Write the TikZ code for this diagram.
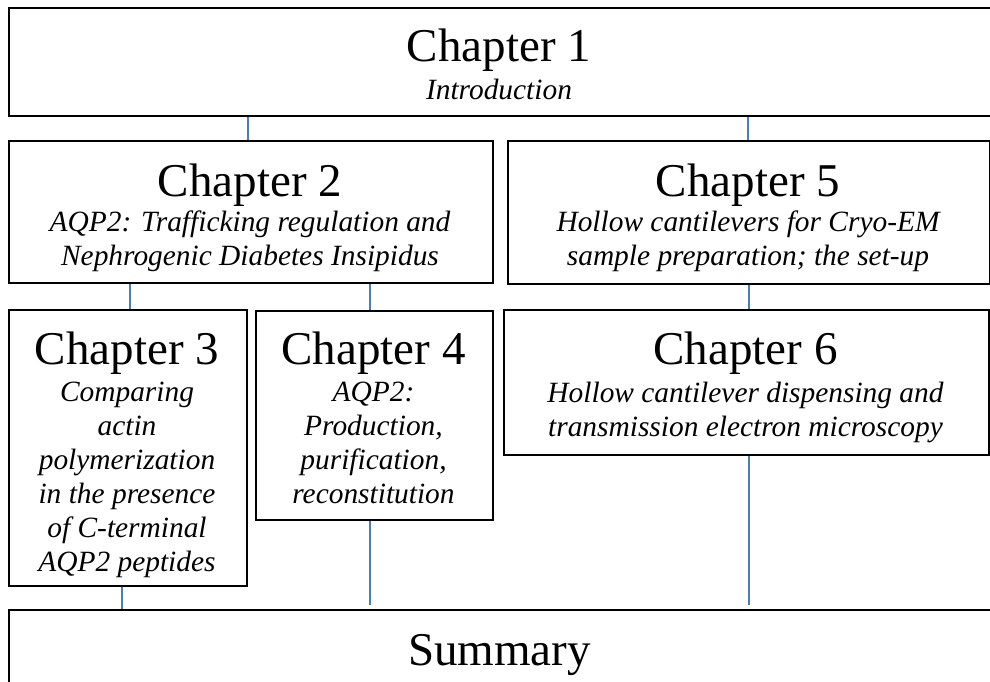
\documentclass[tikz,border=0pt]{standalone}
\usepackage{fontspec}
\setmainfont{Liberation Serif}
\definecolor{connblue}{RGB}{74,126,187}
\begin{document}
\begin{tikzpicture}[x=1pt,y=-1pt,
  box/.style={draw=black, line width=1.5pt, inner sep=0pt, anchor=north west},
  conn/.style={draw=connblue, line width=1.3pt},
  chap/.style={font=\fontsize{47}{50}\selectfont, anchor=base, inner sep=0pt},
  sub/.style={font=\itshape\fontsize{29.4}{34}\selectfont, anchor=base, inner sep=0pt}]
\useasboundingbox (0,0) rectangle (990,681);
\clip (0,0) rectangle (990,681);
% boxes
\node[box, minimum width=1000pt, minimum height=108pt] (ch1) at (8,7) {};
\node[box, minimum width=484pt, minimum height=142pt] (ch2) at (8,140) {};
\node[box, minimum width=482pt, minimum height=143pt] (ch5) at (507,140) {};
\node[box, minimum width=238pt, minimum height=276pt] (ch3) at (8,309) {};
\node[box, minimum width=237pt, minimum height=209pt] (ch4) at (255,310) {};
\node[box, minimum width=485pt, minimum height=145pt] (ch6) at (503,309) {};
\node[box, minimum width=1000pt, minimum height=100pt] (sum) at (8,609) {};
% texts
\node[chap] (t1) at (499,61) {Chapter 1};
\node[sub] (s1) at (499,99) {Introduction};
\node[chap] (t2) at (250,196) {Chapter 2};
\node[sub] (s2a) at (250,231) {AQP2: Trafficking regulation and};
\node[sub] (s2b) at (250,265) {Nephrogenic Diabetes Insipidus};
\node[chap] (t5) at (748,196) {Chapter 5};
\node[sub] (s5a) at (748,231) {Hollow cantilevers for Cryo-EM};
\node[sub] (s5b) at (748,265) {sample preparation; the set-up};
\node[chap] (t3) at (127,364) {Chapter 3};
\node[sub] (s3a) at (127,401) {Comparing};
\node[sub] (s3b) at (127,435) {actin};
\node[sub] (s3c) at (127,469) {polymerization};
\node[sub] (s3d) at (127,503) {in the presence};
\node[sub] (s3e) at (127,537) {of C-terminal};
\node[sub] (s3f) at (127,571) {AQP2 peptides};
\node[chap] (t4) at (373.5,364) {Chapter 4};
\node[sub] (s4a) at (373.5,401) {AQP2:};
\node[sub] (s4b) at (373.5,435) {Production,};
\node[sub] (s4c) at (373.5,469) {purification,};
\node[sub] (s4d) at (373.5,503) {reconstitution};
\node[chap] (t6) at (745.5,364) {Chapter 6};
\node[sub] (s6a) at (745.5,402) {Hollow cantilever dispensing and};
\node[sub] (s6b) at (745.5,436) {transmission electron microscopy};
\node[chap] (ts) at (499.5,665) {Summary};
% connectors
\draw[conn] ([xshift=240pt]ch1.south west) -- ([xshift=240pt]ch2.north west);
\draw[conn] ([xshift=740pt]ch1.south west) -- ([xshift=241pt]ch5.north west);
\draw[conn] ([xshift=122pt]ch2.south west) -- ([xshift=122pt]ch3.north west);
\draw[conn] ([xshift=362pt]ch2.south west) -- ([xshift=115pt]ch4.north west);
\draw[conn] ([xshift=242pt]ch5.south west) -- ([xshift=246pt]ch6.north west);
\draw[conn] ([xshift=114pt]ch3.south west) -- ([xshift=114pt]sum.north west);
\draw[conn] ([xshift=115pt]ch4.south west) -- ([xshift=362pt,yshift=4pt]sum.north west);
\draw[conn] ([xshift=246pt]ch6.south west) -- ([xshift=741pt,yshift=4pt]sum.north west);
\end{tikzpicture}
\end{document}
